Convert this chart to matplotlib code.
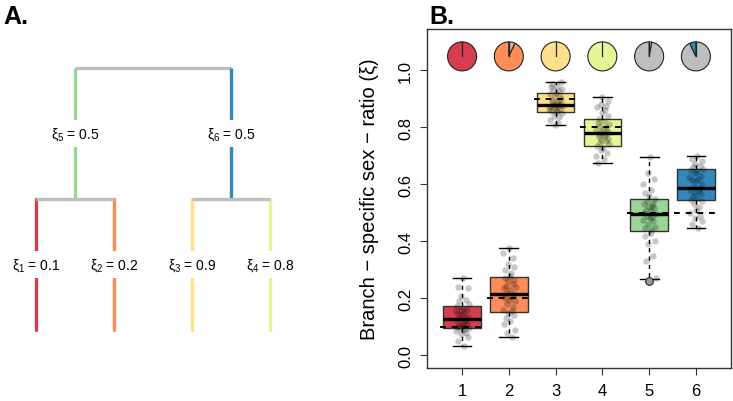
import matplotlib
matplotlib.use("Agg")
import matplotlib.pyplot as plt
import matplotlib.transforms as mtransforms
from matplotlib.patches import Wedge

plt.rcParams['font.family'] = ['Liberation Sans', 'DejaVu Sans']
plt.rcParams['mathtext.fontset'] = 'custom'
plt.rcParams['mathtext.rm'] = 'Liberation Sans'
plt.rcParams['mathtext.it'] = 'Liberation Sans'

# ---------------- data ----------------
branches = [1, 2, 3, 4, 5, 6]
branch_colors = ['#D53E4F', '#FC8D59', '#FEE08B', '#E6F598', '#99D594', '#3288BD']
true_xi = [0.1, 0.2, 0.9, 0.8, 0.5, 0.5]

# boxplot statistics
q1 = [0.095, 0.154, 0.854, 0.734, 0.436, 0.544]
med = [0.126, 0.215, 0.877, 0.779, 0.495, 0.587]
q3 = [0.172, 0.276, 0.919, 0.828, 0.549, 0.653]
whis_lo = [0.033, 0.063, 0.807, 0.674, 0.269, 0.448]
whis_hi = [0.273, 0.375, 0.957, 0.905, 0.695, 0.699]
fliers = [[], [], [], [], [0.26], []]

# replicate estimates (jittered points)
est1 = [0.033, 0.05, 0.065, 0.075, 0.08, 0.085, 0.09, 0.092, 0.095, 0.097, 0.10, 0.102,
        0.105, 0.11, 0.115, 0.12, 0.124, 0.126, 0.13, 0.135, 0.14, 0.145, 0.15, 0.155,
        0.158, 0.16, 0.165, 0.172, 0.18, 0.19, 0.195, 0.21, 0.235, 0.24, 0.273]
est2 = [0.063, 0.08, 0.09, 0.11, 0.12, 0.13, 0.14, 0.15, 0.155, 0.16, 0.17, 0.18, 0.19,
        0.195, 0.2, 0.205, 0.21, 0.215, 0.22, 0.23, 0.235, 0.24, 0.245, 0.25, 0.26,
        0.265, 0.27, 0.28, 0.29, 0.3, 0.31, 0.32, 0.34, 0.36, 0.375]
est3 = [0.807, 0.815, 0.825, 0.835, 0.84, 0.848, 0.852, 0.855, 0.858, 0.862, 0.865,
        0.868, 0.87, 0.872, 0.874, 0.876, 0.877, 0.878, 0.88, 0.883, 0.886, 0.89, 0.895,
        0.9, 0.905, 0.91, 0.915, 0.92, 0.925, 0.93, 0.935, 0.94, 0.945, 0.95, 0.957]
est4 = [0.674, 0.69, 0.70, 0.71, 0.72, 0.728, 0.735, 0.74, 0.745, 0.75, 0.755, 0.76,
        0.765, 0.77, 0.773, 0.776, 0.779, 0.782, 0.786, 0.79, 0.795, 0.80, 0.805, 0.81,
        0.815, 0.82, 0.83, 0.84, 0.85, 0.86, 0.87, 0.875, 0.88, 0.89, 0.905]
est5 = [0.27, 0.33, 0.35, 0.39, 0.40, 0.42, 0.43, 0.44, 0.445, 0.45, 0.46, 0.47,
        0.475, 0.48, 0.485, 0.49, 0.495, 0.50, 0.505, 0.51, 0.515, 0.52, 0.525, 0.53,
        0.535, 0.54, 0.55, 0.56, 0.57, 0.58, 0.6, 0.62, 0.64, 0.695]
est6 = [0.448, 0.46, 0.47, 0.48, 0.49, 0.50, 0.51, 0.52, 0.53, 0.54, 0.545, 0.55, 0.56,
        0.565, 0.57, 0.575, 0.58, 0.587, 0.59, 0.60, 0.61, 0.615, 0.62, 0.625, 0.63,
        0.64, 0.645, 0.65, 0.655, 0.66, 0.665, 0.67, 0.68, 0.69, 0.699]
estimates = [est1, est2, est3, est4, est5, est6]
jitter = [0.05, -0.08, 0.12, -0.02, 0.09, -0.13, 0.01, 0.07, -0.05, 0.14, -0.10, 0.03,
          -0.07, 0.11, -0.01, 0.06, -0.12, 0.08, -0.04, 0.13, 0.0, -0.09, 0.04, -0.14,
          0.10, -0.03, 0.02, -0.11, 0.15, -0.06, 0.08, -0.02, 0.12, -0.08, 0.03]

# pies: share of grey and whether grey comes first clockwise from 12 o'clock
pie_grey_share = [0.0, 0.07, 0.0, 0.0, 0.97, 0.93]
pie_grey_first = [True, True, True, True, False, True]
GREY = '#BEBEBE'

# tree (panel A)
leaf_labels = [r'$\xi_{1}$ = 0.1', r'$\xi_{2}$ = 0.2', r'$\xi_{3}$ = 0.9', r'$\xi_{4}$ = 0.8']
internal_labels = [r'$\xi_{5}$ = 0.5', r'$\xi_{6}$ = 0.5']
leaf_x = [1, 2, 3, 4]
internal_x = [1.5, 3.5]

# ---------------- figure ----------------
fig = plt.figure(figsize=(7.33, 4.02), dpi=100)

# ---------- Panel A ----------
axA = fig.add_axes([0, 0, 330 / 733, 1])
axA.set_xlim(0.538, 4.769)
axA.set_ylim(-0.542, 2.527)
axA.axis('off')
lw_tree = 2.4
axA.plot([internal_x[0], internal_x[1]], [2, 2], color=GREY, lw=lw_tree, solid_capstyle='butt', zorder=1)
for i, ix in enumerate(internal_x):
    col = branch_colors[4 + i]
    axA.plot([ix, ix], [1, 2], color=col, lw=lw_tree, solid_capstyle='butt', zorder=1)
    axA.text(ix, 1.5, internal_labels[i], ha='center', va='center', fontsize=10,
             bbox=dict(facecolor='white', edgecolor='none', pad=4), zorder=3)
    kids = leaf_x[2 * i:2 * i + 2]
    axA.plot([kids[0], kids[1]], [1, 1], color=GREY, lw=lw_tree, solid_capstyle='butt', zorder=2)
for j, lx in enumerate(leaf_x):
    axA.plot([lx, lx], [0, 1], color=branch_colors[j], lw=lw_tree, solid_capstyle='round', zorder=1)
    axA.text(lx, 0.5, leaf_labels[j], ha='center', va='center', fontsize=10,
             bbox=dict(facecolor='white', edgecolor='none', pad=4), zorder=3)
fig.text(3 / 733, 1 - 5 / 402, 'A.', fontsize=18, fontweight='bold', ha='left', va='top')

# ---------- Panel B ----------
ax = fig.add_axes([427 / 733, 33 / 402, 304 / 733, 339 / 402])
stats = []
for i in range(len(branches)):
    stats.append(dict(med=med[i], q1=q1[i], q3=q3[i], whislo=whis_lo[i], whishi=whis_hi[i],
                      fliers=fliers[i]))
bp = ax.bxp(stats, positions=branches, widths=0.8, patch_artist=True, showfliers=True,
            boxprops=dict(edgecolor='#333333', linewidth=1.0),
            medianprops=dict(color='black', linewidth=2.4, solid_capstyle='butt'),
            whiskerprops=dict(color='black', linewidth=1.0, linestyle=(0, (3, 3))),
            capprops=dict(color='black', linewidth=1.0), capwidths=0.4,
            flierprops=dict(marker='o', markerfacecolor='#9a9a9a', markeredgecolor='#222222',
                            markersize=5.5, markeredgewidth=0.8))
for patch, c in zip(bp['boxes'], branch_colors):
    patch.set_facecolor(c)
for m in bp['medians']:
    m.set_zorder(4)
for f in bp['fliers']:
    f.set_zorder(4)

# jittered points
for i, ys in enumerate(estimates):
    n = len(jitter)
    xs = [branches[i] + jitter[(k + 7 * i) % n] for k in range(len(ys))]
    ax.plot(xs, ys, 'o', color='black', alpha=0.22, markersize=4.6, markeredgewidth=0, zorder=3)

# true values (dashed)
for i, t in enumerate(true_xi):
    ax.plot([branches[i] - 0.47, branches[i] + 0.47], [t, t], color='black', lw=1.4,
            linestyle=(0, (3, 3)), zorder=5)

# pies
pie_y = 1.048
r_in = 0.145
for i, b in enumerate(branches):
    trans = fig.dpi_scale_trans + mtransforms.ScaledTranslation(b, pie_y, ax.transData)
    g = pie_grey_share[i]
    col = branch_colors[i]
    if pie_grey_first[i]:
        slices = [(g, GREY), (1 - g, col)]
    else:
        slices = [(1 - g, col), (g, GREY)]
    start = 90.0
    for frac, c in slices:
        if frac <= 0:
            continue
        end = start
        beg = start - 360.0 * frac
        w = Wedge((0, 0), r_in, beg, end, facecolor=c, edgecolor='#222222', linewidth=0.8,
                  transform=trans, zorder=6, clip_on=False)
        ax.add_patch(w)
        start = beg
    ax.plot([0, 0], [0, r_in], color='#222222', lw=0.9, transform=trans, zorder=7, clip_on=False)

ax.set_xlim(0.25, 6.75)
ax.set_ylim(-0.044, 1.144)
ax.set_xticks(branches)
ax.set_xticklabels([str(b) for b in branches], fontsize=12)
ax.set_yticks([0.0, 0.2, 0.4, 0.6, 0.8, 1.0])
ax.set_yticklabels(['0.0', '0.2', '0.4', '0.6', '0.8', '1.0'], fontsize=12, rotation=90, va='center')
ax.tick_params(axis='both', direction='out', length=5, width=0.8, color='#333333')
ax.tick_params(axis='x', pad=6)
ax.tick_params(axis='y', pad=5)
for s in ax.spines.values():
    s.set_color('#333333')
    s.set_linewidth(1.0)
ax.set_ylabel('Branch − specific sex − ratio (ξ)', fontsize=14.5, labelpad=14)
fig.text(429 / 733, 1 - 5 / 402, 'B.', fontsize=18, fontweight='bold', ha='left', va='top')

fig.savefig('out.png', dpi=100)
